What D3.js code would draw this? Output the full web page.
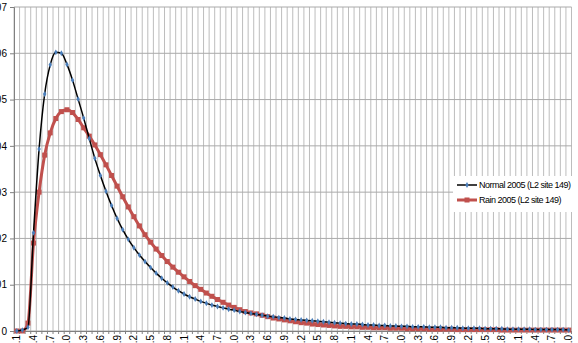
<!DOCTYPE html>
<html>
<head>
<meta charset="utf-8">
<script src="https://cdn.jsdelivr.net/npm/d3@7"></script>
<style>
  body { margin: 0; background: #fff; }
  svg { display: block; font-family: "Liberation Sans", Arial, sans-serif; }
</style>
</head>
<body>
<div id="chart"></div>
<script>
// categories 0.1 .. 10.0 (step 0.1)
const categories = d3.range(1, 101).map(d => d / 10)

const normal2005 = [
  0, 0.0002, 0.0008, 0.0212, 0.0393, 0.0512, 0.0575, 0.0602, 0.0600, 0.0576,
  0.0542, 0.0501, 0.0460, 0.0416, 0.0373, 0.0336, 0.0302, 0.0271, 0.0243, 0.0219,
  0.0198, 0.0180, 0.0164, 0.0150, 0.0137, 0.0125, 0.0114, 0.0104, 0.0095, 0.0087,
  0.0080, 0.0074, 0.0069, 0.0064, 0.0060, 0.0056, 0.0053, 0.0050, 0.0047, 0.0045,
  0.0042, 0.0040, 0.0038, 0.0036, 0.0034, 0.0032, 0.0031, 0.0029, 0.0028, 0.0026,
  0.0025, 0.0024, 0.0023, 0.0022, 0.0021, 0.0020, 0.0019, 0.0018, 0.0017, 0.0016,
  0.0015, 0.0015, 0.0014, 0.0013, 0.0013, 0.0012, 0.0012, 0.0011, 0.0011, 0.0010,
  0.0010, 0.0009, 0.0009, 0.0009, 0.0008, 0.0008, 0.0008, 0.0007, 0.0007, 0.0007,
  0.0006, 0.0006, 0.0006, 0.0006, 0.0005, 0.0005, 0.0005, 0.0005, 0.0004, 0.0004,
  0.0004, 0.0004, 0.0004, 0.0003, 0.0003, 0.0003, 0.0003, 0.0003, 0.0003, 0.0002
]

const rain2005 = [
  0, 0, 0.0017, 0.0190, 0.0300, 0.0380, 0.0428, 0.0459, 0.0474, 0.0478,
  0.0472, 0.0457, 0.0439, 0.0421, 0.0402, 0.0381, 0.0359, 0.0336, 0.0313, 0.0290,
  0.0268, 0.0247, 0.0227, 0.0208, 0.0192, 0.0177, 0.0163, 0.0150, 0.0138, 0.0127,
  0.0117, 0.0107, 0.0098, 0.0090, 0.0082, 0.0075, 0.0068, 0.0062, 0.0056, 0.0051,
  0.0046, 0.0042, 0.0039, 0.0037, 0.0034, 0.0031, 0.0028, 0.0026, 0.0024, 0.0022,
  0.0020, 0.0018, 0.0017, 0.0015, 0.0014, 0.0013, 0.0012, 0.0011, 0.0010, 0.0010,
  0.0009, 0.0009, 0.0008, 0.0008, 0.0007, 0.0007, 0.0007, 0.0006, 0.0006, 0.0006,
  0.0005, 0.0005, 0.0005, 0.0005, 0.0004, 0.0004, 0.0004, 0.0004, 0.0004, 0.0003,
  0.0003, 0.0003, 0.0003, 0.0003, 0.0003, 0.0003, 0.0003, 0.0002, 0.0002, 0.0002,
  0.0002, 0.0002, 0.0002, 0.0002, 0.0002, 0.0002, 0.0002, 0.0002, 0.0002, 0.0002
]

const yTicks = [0, 0.01, 0.02, 0.03, 0.04, 0.05, 0.06, 0.07]
const seriesNames = ['Normal 2005 (L2 site 149)', 'Rain 2005 (L2 site 149)']

const width = 578
const height = 343
const margin = {top: 7, right: 6.5, bottom: 12, left: 14}

const svg = d3.select('#chart')
  .append('svg')
  .attr('width', width)
  .attr('height', height)

const x = d3.scaleBand()
  .domain(categories)
  .range([margin.left, width - margin.right])
  .padding(0)

const y = d3.scaleLinear()
  .domain([0, 0.07])
  .range([height - margin.bottom, margin.top])

const cx = d => x(d) + x.bandwidth() / 2

// gridlines
const grid = svg.append('g')

grid.selectAll('.vgrid')
  .data(d3.range(0, categories.length + 1))
  .enter()
  .append('line')
  .attr('x1', i => margin.left + i * x.bandwidth())
  .attr('x2', i => margin.left + i * x.bandwidth())
  .attr('y1', y(0.07))
  .attr('y2', y(0))
  .attr('stroke', '#bdbdbd')
  .attr('stroke-width', 1)

grid.selectAll('.hgrid')
  .data(yTicks)
  .enter()
  .append('line')
  .attr('x1', margin.left)
  .attr('x2', width - margin.right)
  .attr('y1', d => y(d))
  .attr('y2', d => y(d))
  .attr('stroke', '#aaaaaa')
  .attr('stroke-width', 1)

// y axis
const yAxis = svg.append('g')
  .attr('transform', `translate(${margin.left},0)`)
  .call(d3.axisLeft(y).tickValues(yTicks).tickSize(4).tickPadding(3)
    .tickFormat(d => d === 0 ? '0' : d3.format('.2f')(d)))

yAxis.select('.domain').attr('stroke', '#808080')
yAxis.selectAll('.tick line').attr('stroke', '#808080')
yAxis.selectAll('text')
  .attr('font-size', 10)
  .attr('fill', '#000')
  .attr('font-family', '"Liberation Sans", Arial, sans-serif')

// x axis
const xAxis = svg.append('g')
  .attr('transform', `translate(0,${y(0)})`)
  .call(d3.axisBottom(x)
    .tickValues(categories.filter((d, i) => i % 3 === 0))
    .tickFormat(d3.format('.1f'))
    .tickSize(0)
    .tickPadding(4))

xAxis.select('.domain').attr('stroke', '#808080')
xAxis.selectAll('text')
  .attr('font-size', 10)
  .attr('fill', '#000')
  .attr('font-family', '"Liberation Sans", Arial, sans-serif')
  .attr('transform', 'rotate(-90)')
  .attr('text-anchor', 'end')
  .attr('x', -4)
  .attr('y', 0)
  .attr('dy', '0.35em')

// small tick marks at category boundaries
xAxis.selectAll('.cattick')
  .data(d3.range(0, categories.length + 1))
  .enter()
  .append('line')
  .attr('x1', i => margin.left + i * x.bandwidth())
  .attr('x2', i => margin.left + i * x.bandwidth())
  .attr('y1', 0)
  .attr('y2', 3)
  .attr('stroke', '#808080')

// series
const line = d3.line()
  .x((d, i) => cx(categories[i]))
  .y(d => y(d))
  .curve(d3.curveMonotoneX)

const rainG = svg.append('g')
rainG.append('path')
  .datum(rain2005)
  .attr('d', line)
  .attr('fill', 'none')
  .attr('stroke', '#c0504d')
  .attr('stroke-width', 3)

rainG.selectAll('rect')
  .data(rain2005)
  .enter()
  .append('rect')
  .attr('x', (d, i) => cx(categories[i]) - 2.5)
  .attr('y', d => y(d) - 2.5)
  .attr('width', 5)
  .attr('height', 5)
  .attr('fill', '#c0504d')

const normalG = svg.append('g')
normalG.append('path')
  .datum(normal2005)
  .attr('d', line)
  .attr('fill', 'none')
  .attr('stroke', '#000')
  .attr('stroke-width', 1.5)

const diamond = d3.symbol().type(d3.symbolDiamond).size(10)

normalG.selectAll('.mk')
  .data(normal2005)
  .enter()
  .append('path')
  .attr('d', diamond)
  .attr('transform', (d, i) => `translate(${cx(categories[i])},${y(d)})`)
  .attr('fill', '#4a7ebb')

// legend
const legend = svg.append('g')

legend.append('rect')
  .attr('x', 453)
  .attr('y', 176)
  .attr('width', 119)
  .attr('height', 36)
  .attr('fill', '#fff')

const lg = legend.selectAll('.item')
  .data(seriesNames)
  .enter()
  .append('g')
  .attr('transform', (d, i) => `translate(457,${185 + i * 15})`)

lg.append('line')
  .attr('x1', 0)
  .attr('x2', 20)
  .attr('stroke', (d, i) => i === 0 ? '#000' : '#c0504d')
  .attr('stroke-width', (d, i) => i === 0 ? 1.5 : 3)

lg.filter((d, i) => i === 0)
  .append('path')
  .attr('d', diamond)
  .attr('transform', 'translate(10,0)')
  .attr('fill', '#4a7ebb')

lg.filter((d, i) => i === 1)
  .append('rect')
  .attr('x', 7.5)
  .attr('y', -2.5)
  .attr('width', 5)
  .attr('height', 5)
  .attr('fill', '#c0504d')

lg.append('text')
  .attr('x', 22)
  .attr('dy', '0.35em')
  .attr('font-size', 9)
  .attr('letter-spacing', -0.5)
  .attr('fill', '#000')
  .text(d => d)
</script>
</body>
</html>
